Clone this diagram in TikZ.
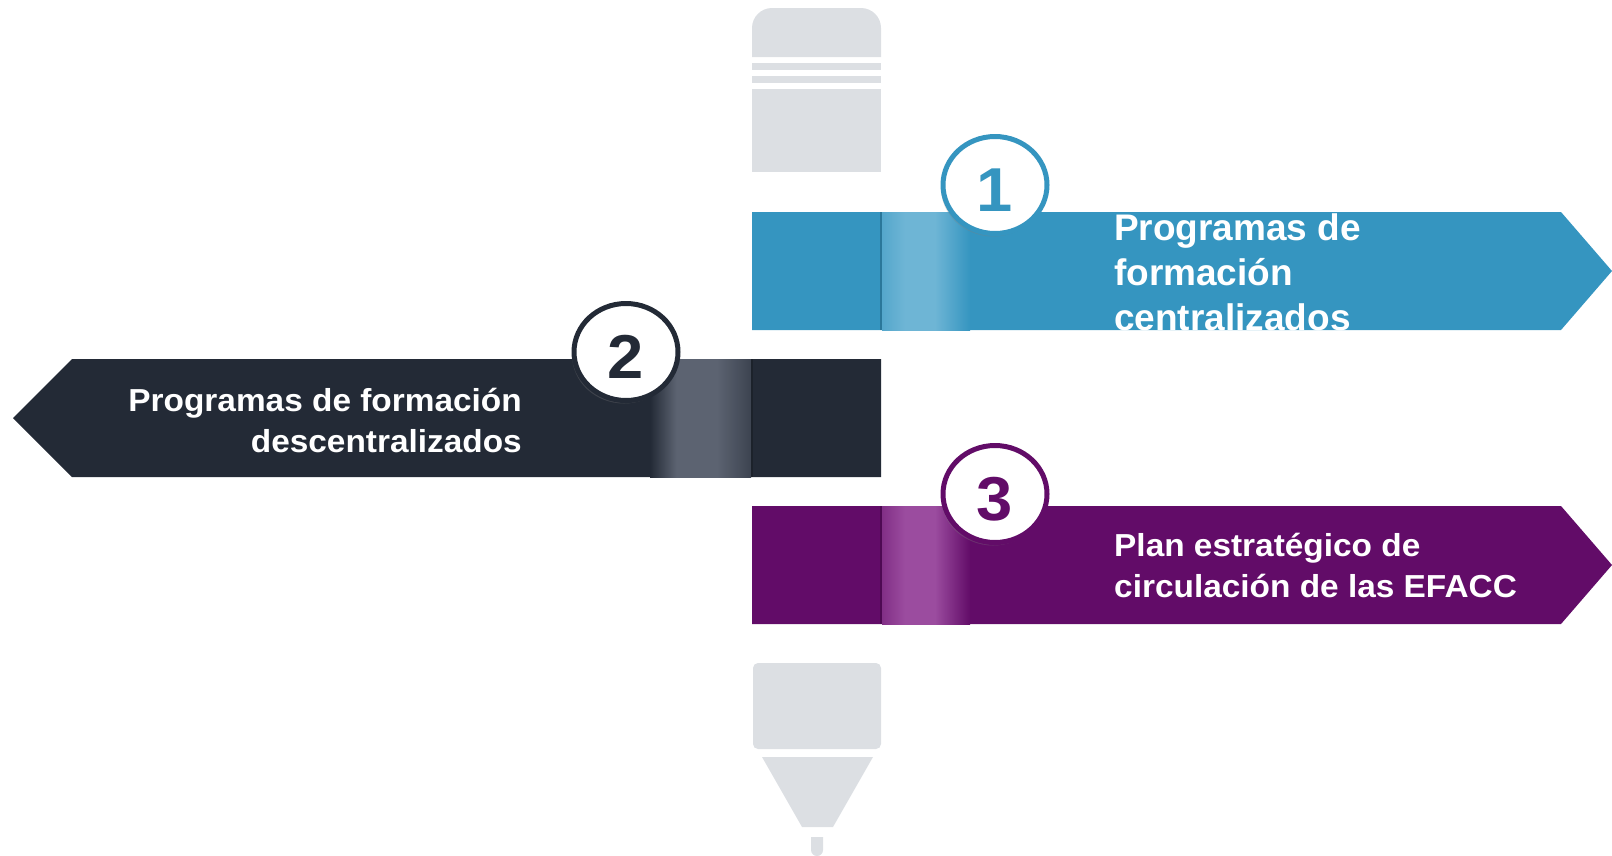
\documentclass[tikz,border=0pt]{standalone}
\usepackage{fontspec}
\setmainfont{Liberation Sans}
\newfontfamily\widefont[FakeStretch=1.05]{Liberation Sans}
\usetikzlibrary{shadows,shapes.geometric}
\definecolor{pencilgray}{HTML}{DCDFE3}
\definecolor{bandblue}{HTML}{3595C0}
\definecolor{bluelight}{HTML}{6EB5D5}
\definecolor{bandnavy}{HTML}{232A36}
\definecolor{navylight}{HTML}{5C6371}
\definecolor{bandpurple}{HTML}{620C68}
\definecolor{purplelight}{HTML}{9B4C9F}
\colorlet{bluemid}{bluelight!55!bandblue}
\colorlet{navymid}{navylight!45!bandnavy}
\colorlet{purplemid}{purplelight!55!bandpurple}
\pgfdeclarehorizontalshading{bluestrip}{100bp}{color(0bp)=(bluemid); color(25bp)=(bluemid); color(38bp)=(bluelight); color(55bp)=(bluelight); color(75bp)=(bandblue); color(100bp)=(bandblue)}
\pgfdeclarehorizontalshading{navystrip}{100bp}{color(0bp)=(bandnavy); color(25bp)=(bandnavy); color(38bp)=(navylight); color(58bp)=(navylight); color(75bp)=(navymid); color(100bp)=(navymid)}
\pgfdeclarehorizontalshading{purplestrip}{100bp}{color(0bp)=(purplemid); color(25bp)=(purplemid); color(38bp)=(purplelight); color(55bp)=(purplelight); color(75bp)=(bandpurple); color(100bp)=(bandpurple)}

\begin{document}
\begin{tikzpicture}[x=1pt,y=-1pt,
  pencil/.style={fill=pencilgray},
  badge/.style={ellipse, draw=#1, fill=white, line width=5pt, minimum width=104pt, minimum height=97pt, inner sep=0pt, text=#1,
    text height=53pt, text depth=0pt,
    font=\widefont\bfseries\fontsize{62}{62}\selectfont, drop shadow={shadow xshift=-2pt, shadow yshift=-3pt, opacity=.3}},
  bandtext/.style={text=white, inner sep=0pt}]
\useasboundingbox (0,0) rectangle (1612,855);

\fill[pencil, rounded corners=20] (752,57) -- (752,8) -- (881,8) -- (881,57);
\fill[pencil] (752,63) rectangle (881,70);
\fill[pencil] (752,76) rectangle (881,83);
\fill[pencil] (752,89) rectangle (881,172);
\fill[pencil, rounded corners=5] (753,663) rectangle (881,749);
\fill[pencil] (762,757) -- (873,757) -- (833,827) -- (802,827) -- cycle;
\fill[pencil, rounded corners=6] (811,837) -- (811,856) -- (823,856) -- (823,837);

\fill[bandblue] (752,212) -- (1561,212) -- (1612,271) -- (1561,330) -- (752,330) -- cycle;
\shade[shading=bluestrip] (882,212) rectangle (970,330);
\draw[bandblue!80!black, line width=1.5pt] (881,212) -- (881,330);

\fill[bandnavy] (72,359) -- (881,359) -- (881,477) -- (72,477) -- (13,418) -- cycle;
\shade[shading=navystrip] (650,359) rectangle (751,477);
\draw[bandnavy!80!black, line width=1.5pt] (752,359) -- (752,477);

\fill[bandpurple] (752,506) -- (1561,506) -- (1612,565) -- (1561,624) -- (752,624) -- cycle;
\shade[shading=purplestrip] (882,506) rectangle (970,624);
\draw[bandpurple!80!black, line width=1.5pt] (881,506) -- (881,624);

\begin{scope}
\clip (752,212) rectangle (1612,330);
\node[bandtext, anchor=north west, align=left, font=\bfseries\fontsize{37}{45}\selectfont] (centralizados) at (1114,213.5)
  {Programas de\\formación\\centralizados};
\end{scope}
\node[bandtext, anchor=north east, align=right, font=\widefont\bfseries\fontsize{31.8}{41}\selectfont] (descentralizados) at (522,388)
  {Programas de formación\\descentralizados};
\node[bandtext, anchor=north west, align=left, font=\widefont\bfseries\fontsize{31.8}{41}\selectfont] (plan) at (1114,533)
  {Plan estratégico de\\circulación de las EFACC};

\node[badge=bandblue] (one) at (995,185) {1};
\node[badge=bandnavy] (two) at (626,352) {2};
\node[badge=bandpurple] (three) at (995,494) {3};
\end{tikzpicture}
\end{document}
